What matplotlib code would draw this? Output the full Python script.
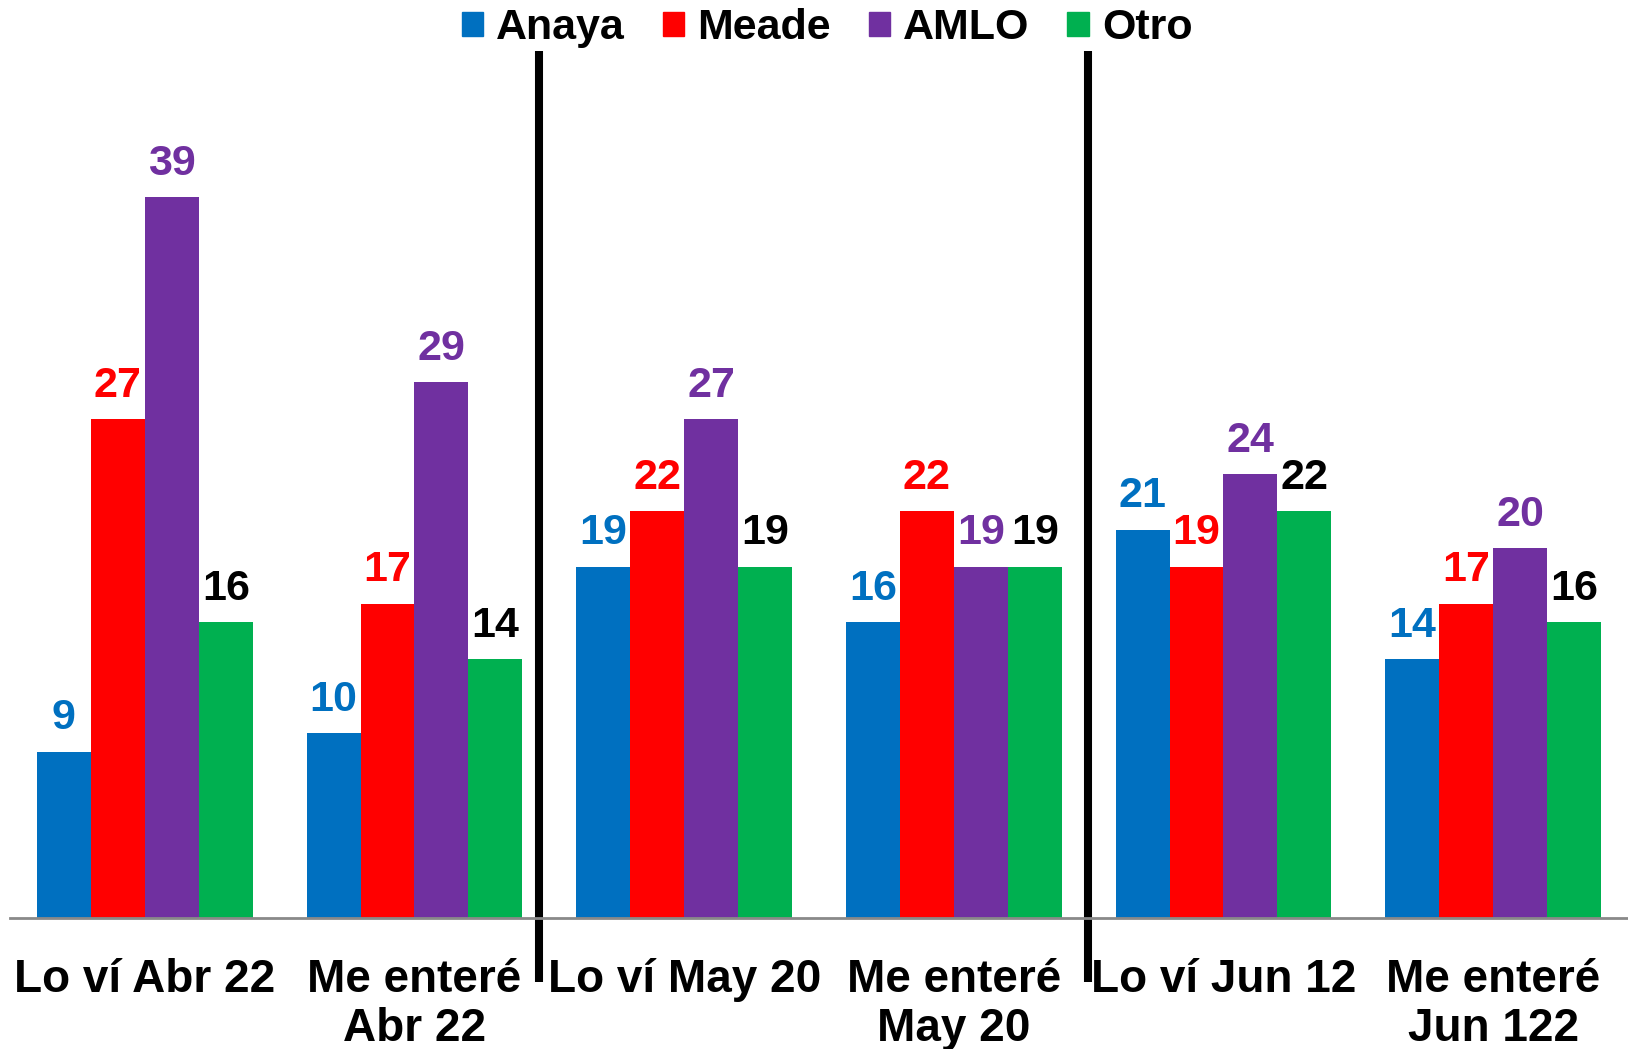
import numpy as np
import matplotlib.pyplot as plt
from matplotlib.patches import Patch

plt.rcParams['font.family'] = ['Liberation Sans', 'DejaVu Sans']
plt.rcParams['font.weight'] = 'bold'

# categories (tick labels) and series
categorias = ['Lo ví Abr 22', 'Me enteré\nAbr 22', 'Lo ví May 20',
              'Me enteré\nMay 20', 'Lo ví Jun 12', 'Me enteré\nJun 122']
candidatos = ['Anaya', 'Meade', 'AMLO', 'Otro']
anaya = [9, 10, 19, 16, 21, 14]
meade = [27, 17, 22, 22, 19, 17]
amlo = [39, 29, 27, 19, 24, 20]
otro = [16, 14, 19, 19, 22, 16]

colores = ['#0070C0', '#FF0000', '#7030A0', '#00B050']
col_etiqueta = ['#0070C0', '#FF0000', '#7030A0', '#000000']

fig = plt.figure(figsize=(16.28, 10.49), dpi=100)
ax = fig.add_axes([10 / 1628, 0.1249, 1618 / 1628, 0.8751])

x = np.arange(len(categorias))
ancho = 0.2
series = [anaya, meade, amlo, otro]
for j, vals in enumerate(series):
    pos = x + (j - 1.5) * ancho
    ax.bar(pos, vals, ancho, color=colores[j], linewidth=0)
    for p, v in zip(pos, vals):
        ax.annotate(str(v), (p, v), xytext=(0, 16), textcoords='offset points',
                    ha='center', va='baseline', fontsize=31, fontweight='bold',
                    color=col_etiqueta[j])

ax.set_xlim(-0.5, 5.5)
ax.set_ylim(0, 49.65)
ax.set_yticks([])
ax.set_xticks(x)
ax.set_xticklabels(categorias, fontsize=33, fontweight='bold', linespacing=1.14)
ax.tick_params(axis='x', length=0, pad=29)
for s in ['top', 'left', 'right']:
    ax.spines[s].set_visible(False)
ax.spines['bottom'].set_color('#898989')
ax.spines['bottom'].set_linewidth(2)

# separadores entre periodos
for xs in [1.461, 3.498]:
    ax.plot([xs, xs], [-3.46, 46.9], color='black', lw=5.8, clip_on=False,
            solid_capstyle='butt')

handles = [Patch(color=c, label=n) for c, n in zip(colores, candidatos)]
fig.legend(handles=handles, loc='upper center', bbox_to_anchor=(0.508, 1.029),
           ncol=4, frameon=False, handlelength=0.5,
           handleheight=0.5, handletextpad=0.3, columnspacing=0.88,
           prop={'weight': 'bold', 'size': 31})

fig.savefig('out.png', dpi=100)
